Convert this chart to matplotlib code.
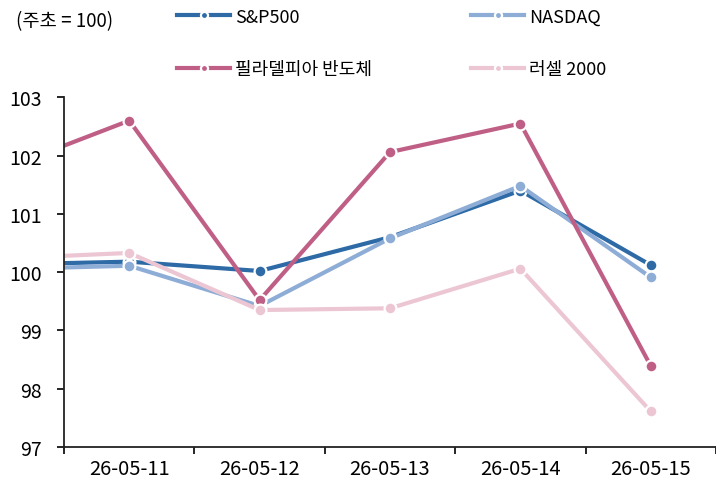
import numpy as np
import matplotlib.pyplot as plt
from matplotlib.lines import Line2D

plt.rcParams['font.family'] = ['Noto Sans CJK KR', 'DejaVu Sans']

# 날짜 (첫 값은 직전 거래일, 축 밖으로 잘림)
dates = ['26-05-08', '26-05-11', '26-05-12', '26-05-13', '26-05-14', '26-05-15']
sp500 = [100.13, 100.18, 100.02, 100.60, 101.40, 100.12]
nasdaq = [100.05, 100.11, 99.42, 100.58, 101.48, 99.91]
sox = [101.74, 102.60, 99.52, 102.06, 102.55, 98.39]
russell = [100.23, 100.33, 99.35, 99.38, 100.06, 97.61]

names = ['S&P500', 'NASDAQ', '필라델피아 반도체', '러셀 2000']
colors = ['#2d6aa6', '#8eadd6', '#c05f86', '#ecc7d3']
series = [sp500, nasdaq, sox, russell]

fig = plt.figure(figsize=(7.16, 4.81), dpi=100)
ax = fig.add_axes([0.0894, 0.0686, 0.9106, 0.727])

x = np.arange(len(dates)) - 1
for vals, c, name in zip(series, colors, names):
    ax.plot(x, vals, color=c, lw=3, marker='o', ms=8.5,
            mec='white', mew=1.6, label=name, clip_on=True)

ax.set_xlim(-0.5, 4.5)
ax.set_ylim(97, 103)
ax.set_yticks(range(97, 104))

# 경계에 눈금, 가운데에 라벨
ax.set_xticks(np.arange(-0.5, 5, 1))
ax.set_xticklabels([])
ax.set_xticks(np.arange(0, 5), minor=True)
ax.set_xticklabels(dates[1:], minor=True)
ax.tick_params(axis='x', which='major', length=5, width=1.2, direction='out')
ax.tick_params(axis='x', which='minor', length=0, pad=8, labelsize=14.5)
ax.tick_params(axis='y', length=5, width=1.2, pad=11, labelsize=14)

for s in ['top', 'right']:
    ax.spines[s].set_visible(False)
for s in ['left', 'bottom']:
    ax.spines[s].set_linewidth(1.3)
    ax.spines[s].set_color('#222222')

fig.text(0.022, 0.955, '(주초 = 100)', fontsize=13.5, va='center', ha='left')

handles = [Line2D([0], [0], color=c, lw=3, marker='o', ms=8.5, mec='white', mew=1.6)
           for c in colors]
order = [0, 2, 1, 3]
fig.legend([handles[i] for i in order], [names[i] for i in order],
           ncol=2, loc='upper left', bbox_to_anchor=(0.225, 1.016),
           frameon=False, fontsize=13, handlelength=2.9, handletextpad=0.3,
           columnspacing=5.5, labelspacing=1.9, markerscale=0.6)

fig.savefig('out.png', dpi=100)
